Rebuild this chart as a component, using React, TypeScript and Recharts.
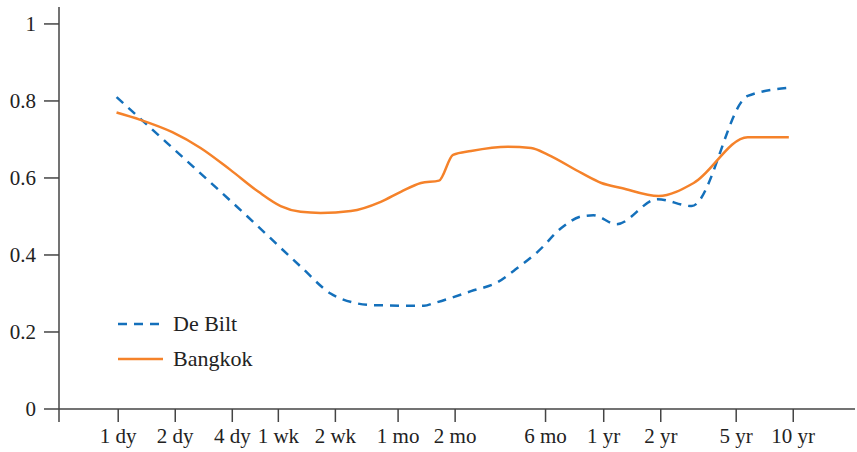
import React from "react"
import { LineChart, Line, XAxis, YAxis, Legend } from "recharts"

// time span in days, tick labels on the log axis
const tickDays = [0.487, 1, 2, 4, 7, 14, 30, 60, 180, 365, 730, 1826, 3652]
const tickLabels = ["", "1 dy", "2 dy", "4 dy", "1 wk", "2 wk", "1 mo", "2 mo", "6 mo", "1 yr", "2 yr", "5 yr", "10 yr"]
const yTicks = [0, 0.2, 0.4, 0.6, 0.8, 1]

const deBiltDays = [0.98, 1.82, 4.81, 9.18, 13.2, 17.9, 21.5, 41.1, 46.4, 72.8, 101, 123, 165, 218, 278, 322, 426, 702, 1062, 2101, 3461]
const deBiltValues = [0.81, 0.69, 0.5, 0.37, 0.3, 0.275, 0.27, 0.268, 0.275, 0.306, 0.33, 0.36, 0.41, 0.47, 0.5, 0.503, 0.48, 0.545, 0.527, 0.813, 0.834]

const bangkokDays = [0.98, 1.31, 1.93, 2.72, 3.91, 5.5, 7.2, 9.18, 11.7, 16.9, 24.3, 31, 39.6, 49.3, 58.5, 72.8, 114, 151, 186, 278, 355, 453, 711, 1089, 2101, 3461]
const bangkokValues = [0.77, 0.751, 0.719, 0.678, 0.621, 0.564, 0.527, 0.512, 0.509, 0.514, 0.538, 0.564, 0.587, 0.593, 0.66, 0.67, 0.681, 0.678, 0.66, 0.613, 0.587, 0.574, 0.553, 0.587, 0.706, 0.706]

const deBilt = deBiltDays.map((d, i) => ({ d, v: deBiltValues[i] }))
const bangkok = bangkokDays.map((d, i) => ({ d, v: bangkokValues[i] }))

const BLUE = "#1470bb"
const ORANGE = "#f5822a"
const AXIS = "#444"
const FONT = "'Liberation Serif', serif"

const series = [
  { name: "De Bilt", color: BLUE, dash: "9 7" },
  { name: "Bangkok", color: ORANGE, dash: undefined },
]

function LegendBox() {
  return (
    <svg width={150} height={70} style={{ display: "block" }}>
      {series.map((s, i) => (
        <g key={s.name}>
          <line x1={0} x2={45} y1={14 + i * 35} y2={14 + i * 35} stroke={s.color} strokeWidth={2.5} strokeDasharray={s.dash} />
          <text x={55} y={21 + i * 35} fontSize={22} fontFamily={FONT} fill="#222">
            {s.name}
          </text>
        </g>
      ))}
    </svg>
  )
}

export default function App() {
  return (
    <div style={{ position: "absolute", left: 0, top: 0, background: "#fff" }}>
      <LineChart width={857} height={452} margin={{ top: 7, right: 2, bottom: 0, left: 0 }}>
        <XAxis
          dataKey="d"
          type="number"
          scale="log"
          domain={[0.487, 7735]}
          allowDataOverflow
          ticks={tickDays}
          interval={0}
          tickFormatter={(v: number) => tickLabels[tickDays.indexOf(v)] ?? ""}
          height={43}
          tickSize={13}
          tickMargin={6}
          stroke={AXIS}
          strokeWidth={1.5}
          tick={{ fill: "#222", fontSize: 21, fontFamily: FONT }}
        />
        <YAxis
          type="number"
          domain={[0, 1.044]}
          allowDataOverflow
          ticks={yTicks}
          interval={0}
          tickFormatter={(v: number) => (v === 0 || v === 1 ? String(v) : v.toFixed(1))}
          width={59}
          tickSize={15}
          tickMargin={8}
          stroke={AXIS}
          strokeWidth={1.5}
          tick={{ fill: "#222", fontSize: 21, fontFamily: FONT }}
        />
        <Legend
          layout="vertical"
          align="center"
          verticalAlign="middle"
          content={() => <LegendBox />}
          wrapperStyle={{ position: "absolute", left: 118, top: 310, width: 150 }}
        />
        <Line
          data={deBilt}
          dataKey="v"
          name="De Bilt"
          type="monotone"
          stroke={BLUE}
          strokeWidth={2.5}
          strokeDasharray="9 7"
          dot={false}
          isAnimationActive={false}
        />
        <Line
          data={bangkok}
          dataKey="v"
          name="Bangkok"
          type="monotone"
          stroke={ORANGE}
          strokeWidth={2.5}
          dot={false}
          isAnimationActive={false}
        />
      </LineChart>
    </div>
  )
}
